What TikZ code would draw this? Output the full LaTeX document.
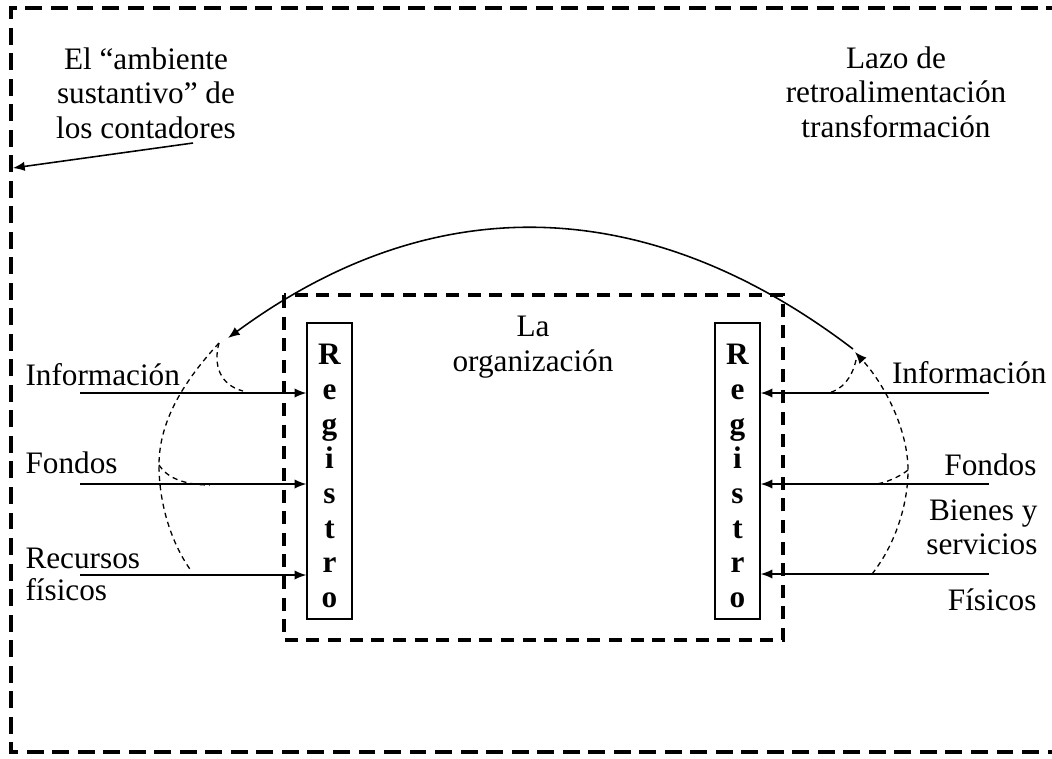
\documentclass[tikz,border=0pt]{standalone}
\usepackage{fontspec}
\setmainfont{Liberation Serif}
\usetikzlibrary{arrows.meta}
\begin{document}
\begin{tikzpicture}[x=0.384pt,y=-0.384pt,
  every node/.style={inner sep=0pt, font=\fontsize{12}{13.3}\selectfont},
  lbl/.style={anchor=base west},
  rlbl/.style={anchor=base east},
  envbox/.style={line width=1.2pt, dash pattern=on 6.5pt off 3.3pt},
  orgbox/.style={line width=1.2pt, dash pattern=on 5pt off 3.3pt},
  flow/.style={line width=0.6pt, -{Latex[length=4.5pt,width=3.6pt]}},
  fbloop/.style={line width=0.5pt, dash pattern=on 2pt off 1.6pt},
  regbox/.style={draw, line width=0.5pt, minimum width=17.3pt, minimum height=113.7pt},
  regtext/.style={align=center, font=\fontsize{12}{13.3}\selectfont\bfseries}
]
\useasboundingbox (0,0) rectangle (1052,758);
\clip (0,0) rectangle (1052,758);

% the accountants' environment (runs past the right edge)
\draw[envbox] (1090,752) -- (11,752) -- (11,8) -- (1090,8);

% the organisation
\draw[orgbox] (284,295) rectangle (783,640);
\node[align=center, anchor=north] (org) at (533,316) {La\\organización};

% recording columns
\node[regbox] (regL) at (329.5,471) {};
\node[regbox] (regR) at (737.5,471) {};
\node[regtext] (regLtext) at (329.5,476) {R\\e\\g\\i\\s\\t\\r\\o};
\node[regtext] (regRtext) at (737.5,476) {R\\e\\g\\i\\s\\t\\r\\o};

% incoming flows, left
\coordinate (inL1) at (80,393);
\coordinate (inL2) at (80,484);
\coordinate (inL3) at (80,575);
\draw[flow] (inL1) -- (inL1 -| regL.west);
\draw[flow] (inL2) -- (inL2 -| regL.west);
\draw[flow] (inL3) -- (inL3 -| regL.west);
\node[lbl] (tInfoL) at (25,385) {Información};
\node[lbl] (tFondL) at (25,473) {Fondos};
\node[lbl] (tRecL) at (25,568) {Recursos};
\node[lbl] (tFisL) at (25,600) {físicos};

% incoming flows, right
\coordinate (inR1) at (989,393);
\coordinate (inR2) at (989,484);
\coordinate (inR3) at (989,574);
\draw[flow] (inR1) -- (inR1 -| regR.east);
\draw[flow] (inR2) -- (inR2 -| regR.east);
\draw[flow] (inR3) -- (inR3 -| regR.east);
\node[rlbl] (tInfoR) at (1047,383) {Información};
\node[rlbl] (tFondR) at (1037,475) {Fondos};
\node[align=right, anchor=north east] (tBienR) at (1038,499) {Bienes y\\servicios};
\node[rlbl] (tFisR) at (1037,610) {Físicos};

% top-left caption and its pointer
\node[align=center, anchor=north] (env) at (146,47) {El “ambiente\\sustantivo” de\\los contadores};
\coordinate (envFrom) at (193,143);
\coordinate (envTo) at (13,168);
\draw[flow] (envFrom) -- (envTo);

% top-right caption
\node[align=center, anchor=north] (lazo) at (896,46) {Lazo de\\retroalimentación\\transformación};

% feedback arc over the organisation
\coordinate (arcR) at (853,349);
\coordinate (arcL) at (228,338);
\draw[flow] (arcR) .. controls (655,198) and (440,182) .. (arcL);

% dashed fan on the left
\coordinate (fanL) at (219,343);
\coordinate (fanLmid) at (159,465);
\draw[fbloop] (fanL) .. controls (185,380) and (159,420) .. (fanLmid)
  .. controls (159,505) and (172,545) .. (192,572);
\draw[fbloop] (fanL) .. controls (213,365) and (220,385) .. (243,391);
\draw[fbloop] (fanLmid) .. controls (167,478) and (185,485) .. (210,485);

% dashed gathering on the right
\coordinate (fanR) at (855,352);
\coordinate (fanRmid) at (908,470);
\draw[fbloop, -{Latex[length=4.5pt,width=3.6pt]}] (872,574) .. controls (895,545) and (908,505) .. (fanRmid)
  .. controls (908,430) and (885,385) .. (fanR);
\draw[fbloop] (856,360) .. controls (852,378) and (842,390) .. (828,393);
\draw[fbloop] (fanRmid) .. controls (903,474) and (892,481) .. (877,484);
\end{tikzpicture}
\end{document}
